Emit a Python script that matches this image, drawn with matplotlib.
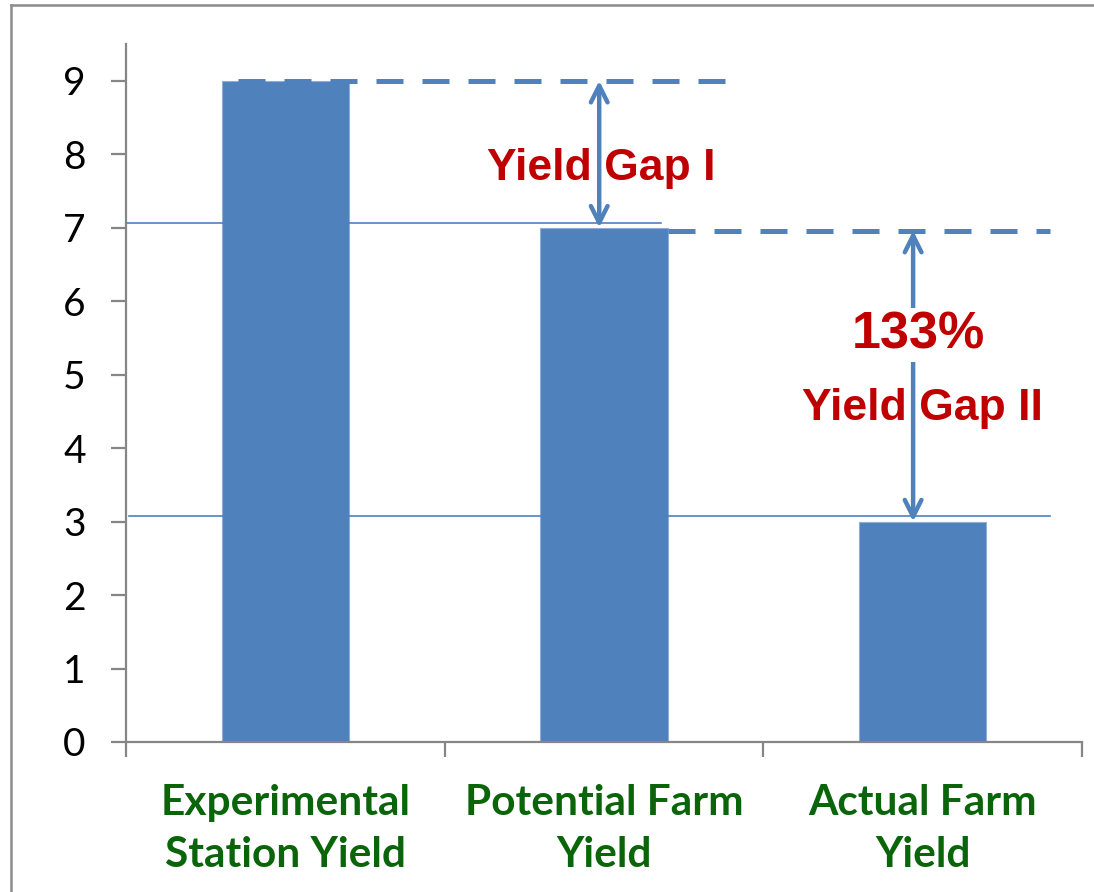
import matplotlib
matplotlib.use("Agg")
import matplotlib.pyplot as plt
from matplotlib.lines import Line2D

categories = ["Experimental\nStation Yield", "Potential Farm\nYield", "Actual Farm\nYield"]
values = [9, 7, 3]
y_ticks = [0, 1, 2, 3, 4, 5, 6, 7, 8, 9]
gap1_label = "Yield Gap I"
gap2_label = "Yield Gap II"
pct_label = "133%"
ref_line_upper = 7.07
ref_line_lower = 3.07

BLUE = "#4F81BD"
RED = "#C00000"
GREEN = "#0A650A"
GRAY = "#868686"

fig = plt.figure(figsize=(10.94, 8.92), dpi=100)
ax = fig.add_axes([126/1094, 1-742/892, (1082-126)/1094, (742-44)/892])

x = list(range(len(categories)))
ax.bar(x, values, width=0.4, color=BLUE, edgecolor="#8FADD6", linewidth=0.8, zorder=2)

ax.set_xlim(-0.5, 2.5)
ax.set_ylim(0, 9.5)

# thin reference lines
ax.plot([-0.5, 1.18], [ref_line_upper, ref_line_upper], color=BLUE, lw=1.2, zorder=3)
ax.plot([-0.49, 2.40], [ref_line_lower, ref_line_lower], color=BLUE, lw=1.2, zorder=3)

# dashed lines
ax.plot([-0.15, 1.41], [values[0], values[0]], color=BLUE, lw=3.6,
        dashes=(5.4, 3.8), solid_capstyle="butt", dash_capstyle="butt", zorder=3)
ax.plot([1.20, 2.40], [6.96, 6.96], color=BLUE, lw=3.6,
        dashes=(5.4, 3.8), solid_capstyle="butt", dash_capstyle="butt", zorder=3)

# arrows
ax.annotate("", xy=(0.985, values[0]), xytext=(0.985, values[1]),
            arrowprops=dict(arrowstyle="<->", color=BLUE, lw=3.2,
                            mutation_scale=30, shrinkA=0, shrinkB=0,
                            capstyle="round", joinstyle="round"), zorder=4)
ax.annotate("", xy=(1.97, 6.96), xytext=(1.97, values[2]),
            arrowprops=dict(arrowstyle="<->", color=BLUE, lw=3.2,
                            mutation_scale=30, shrinkA=0, shrinkB=0,
                            capstyle="round", joinstyle="round"), zorder=4)

# texts
ax.text(0.99, 7.65, gap1_label, ha="center", va="baseline", color=RED,
        fontsize=32, fontweight="bold", family="Liberation Sans", zorder=5)
ax.text(1.985, 5.36, pct_label, ha="center", va="baseline", color=RED,
        fontsize=37.5, fontweight="bold", family="Liberation Sans", zorder=5,
        bbox=dict(facecolor="white", edgecolor="none", pad=2))
ax.text(1.998, 4.38, gap2_label, ha="center", va="baseline", color=RED,
        fontsize=32, fontweight="bold", family="Liberation Sans", zorder=5)

# axes styling
for s in ["top", "right"]:
    ax.spines[s].set_visible(False)
for s in ["left", "bottom"]:
    ax.spines[s].set_color(GRAY)
    ax.spines[s].set_linewidth(1.6)

ax.set_yticks(y_ticks)
ax.set_yticklabels([str(v) for v in y_ticks], family="Lato", fontsize=28)
ax.tick_params(axis="y", length=11, width=1.6, color=GRAY, pad=18)

ax.set_xticks(x)
ax.set_xticklabels(categories, family="Lato", fontsize=30.5, fontweight="bold",
                   color=GREEN, linespacing=1.45)
ax.tick_params(axis="x", which="major", length=0, pad=30)
ax.set_xticks([-0.5, 0.5, 1.5, 2.5], minor=True)
ax.tick_params(axis="x", which="minor", length=11, width=1.6, color=GRAY, direction="out")

# outer frame (left and top edges visible)
fig.add_artist(Line2D([11/1094, 11/1094], [0, 1-5/892], color="#8C8C8C", lw=1.8,
                      transform=fig.transFigure))
fig.add_artist(Line2D([11/1094, 1], [1-5/892, 1-5/892], color="#8C8C8C", lw=1.8,
                      transform=fig.transFigure))

fig.savefig("out.png", dpi=100)
